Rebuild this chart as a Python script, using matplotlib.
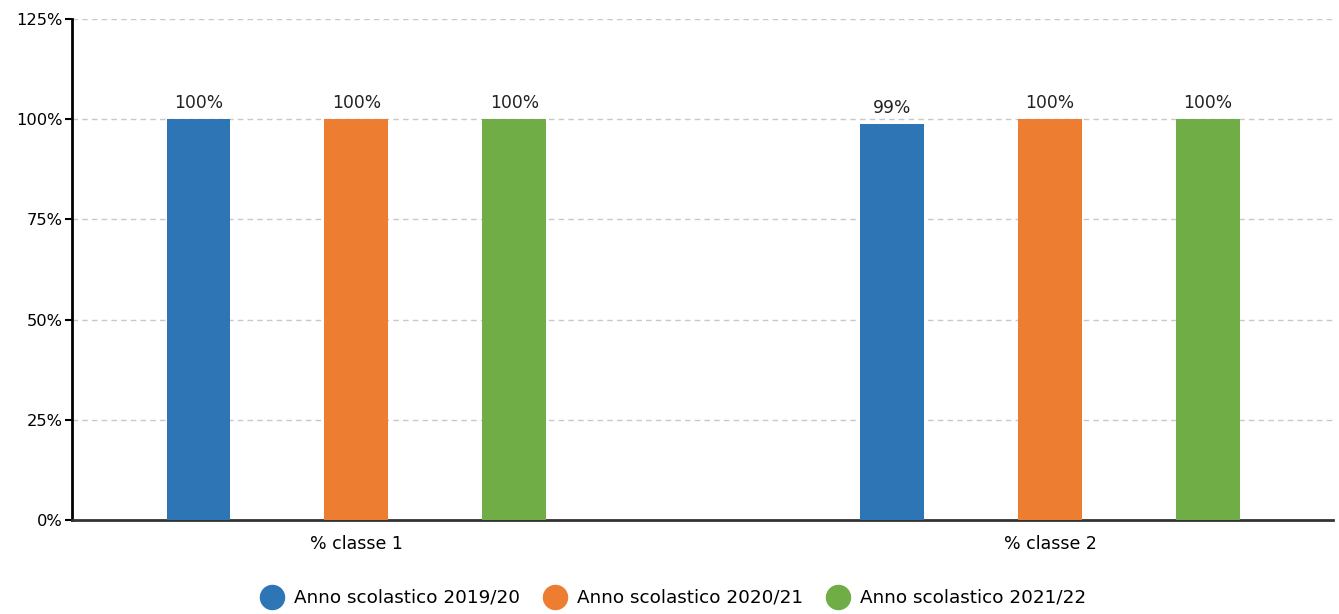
import numpy as np
import matplotlib.pyplot as plt
from matplotlib.ticker import FuncFormatter

# Dati
categorie = ['% classe 1', '% classe 2']
serie = ['Anno scolastico 2019/20', 'Anno scolastico 2020/21', 'Anno scolastico 2021/22']
valori_2019 = [100, 98.8]
valori_2020 = [100, 100]
valori_2021 = [100, 100]
etichette_2019 = ['100%', '99%']
etichette_2020 = ['100%', '100%']
etichette_2021 = ['100%', '100%']
kleuren = ['#2e75b6', '#ed7d31', '#70ad47']

fig = plt.figure(figsize=(13.39, 6.14), dpi=100)
ax = fig.add_axes([72 / 1339, 1 - 520 / 614, (1333 - 72) / 1339, (520 - 19) / 614])

x = np.arange(len(categorie))
breedte = 0.092
offset = 0.2277
alle_waarden = [valori_2019, valori_2020, valori_2021]
alle_labels = [etichette_2019, etichette_2020, etichette_2021]
for i, (naam, vals, labs, kleur) in enumerate(zip(serie, alle_waarden, alle_labels, kleuren)):
    pos = x + (i - 1) * offset
    ax.bar(pos, vals, width=breedte, color=kleur, zorder=3)
    for p, v, l in zip(pos, vals, labs):
        ax.text(p, v + 1.8, l, ha='center', va='bottom', fontsize=12.3, color='#222222')
    ax.scatter([], [], s=300, color=kleur, label=naam)

ax.set_xlim(-0.41, 1.408)
ax.set_ylim(0, 125)
ax.set_yticks([0, 25, 50, 75, 100, 125])
ax.yaxis.set_major_formatter(FuncFormatter(lambda v, _: f'{v:.0f}%'))
ax.set_xticks(x)
ax.set_xticklabels(categorie)
ax.tick_params(axis='x', length=0, pad=11, labelsize=12.5)
ax.tick_params(axis='y', length=5, width=1.5, labelsize=11.7, pad=2)
ax.grid(axis='y', color='#c8c8c8', linestyle=(0, (4, 3)), linewidth=1, zorder=0)

for s in ['top', 'right']:
    ax.spines[s].set_visible(False)
ax.spines['left'].set_linewidth(2)
ax.spines['bottom'].set_linewidth(2)
ax.spines['bottom'].set_color('#333333')

fig.legend(loc='center', bbox_to_anchor=(0.5, 1 - 597 / 614), ncol=3, frameon=False,
           fontsize=13.2, handletextpad=0.2, columnspacing=0.9, markerscale=1.0)

plt.savefig('out.png', dpi=100)
